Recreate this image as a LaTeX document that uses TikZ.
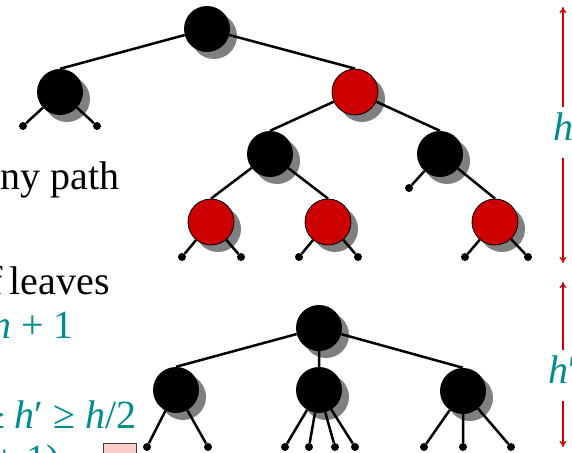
\documentclass[tikz,border=0pt]{standalone}
\usepackage{fontspec}
\setmainfont{Liberation Serif}
\usetikzlibrary{arrows.meta}

\definecolor{rbred}{RGB}{204,0,0}
\definecolor{mteal}{RGB}{0,140,140}
\definecolor{shadegray}{RGB}{128,128,128}
\definecolor{qedpink}{RGB}{255,204,204}

\pgfdeclarelayer{shadows}
\pgfdeclarelayer{edges}
\pgfsetlayers{shadows,edges,main}

\tikzset{
  blk/.style={circle,fill=black,minimum size=46pt,inner sep=0pt},
  rnd/.style={circle,fill=rbred,draw=black,line width=0.8pt,minimum size=46pt,inner sep=0pt},
  leaf/.style={circle,fill=black,minimum size=8pt,inner sep=0pt},
  edge/.style={line width=2.5pt},
  txt/.style={anchor=base east,inner sep=0pt},
  htlab/.style={anchor=base,text=mteal,text height=30pt,text depth=15pt,inner sep=3pt},
  hgt/.style={draw=rbred,line width=1.3pt,-{To[length=6pt,width=7pt]}}
}

\begin{document}
\begin{tikzpicture}[x=1pt,y=-1pt,font=\fontsize{40}{48}\selectfont]
  \useasboundingbox (0,0) rectangle (572,452);
  \clip (0,0) rectangle (572,452);

  % text on the left
  \node[txt] (t1) at (120,189) {ny path};
  \node[txt] (t2) at (110,294) {f\hspace{7.5pt}leaves};
  \node[txt,text=mteal] (t3) at (74,338) {\textit{n} + 1};
  \node[txt,text=mteal] (t4) at (137,428) {≥ \textit{h}′ ≥ \textit{h}/2};
  \node[txt,text=mteal] (t5) at (70,472) {+ 1).};
  \draw[draw=darkgray,fill=qedpink] (103,443) rectangle (136,476);

  % red-black tree
  \node[blk] (r) at (207,29) {};
  \node[blk] (a) at (60,92) {};
  \node[rnd] (b) at (355,92) {};
  \node[blk] (c) at (270,154) {};
  \node[blk] (d) at (440,154) {};
  \node[rnd] (e) at (211,222) {};
  \node[rnd] (f) at (328,222) {};
  \node[rnd] (g) at (495,222) {};
  \node[leaf] (a1) at (23,126) {};
  \node[leaf] (a2) at (97,126) {};
  \node[leaf] (d1) at (409,188) {};
  \node[leaf] (e1) at (182,257) {};
  \node[leaf] (e2) at (241,257) {};
  \node[leaf] (f1) at (299,257) {};
  \node[leaf] (f2) at (358,257) {};
  \node[leaf] (g1) at (465,257) {};
  \node[leaf] (g2) at (528,257) {};

  % 2-3-4 tree
  \node[blk] (R) at (319,328) {};
  \node[blk] (L) at (176,390) {};
  \node[blk] (M) at (319,390) {};
  \node[blk] (N) at (463,391) {};
  \node[leaf] (L1) at (147,447) {};
  \node[leaf] (L2) at (208,447) {};
  \node[leaf] (M1) at (285,447) {};
  \node[leaf] (M2) at (309,447) {};
  \node[leaf] (M3) at (335,447) {};
  \node[leaf] (M4) at (355,447) {};
  \node[leaf] (N1) at (424,447) {};
  \node[leaf] (N2) at (463,447) {};
  \node[leaf] (N3) at (511,447) {};

  \begin{pgfonlayer}{edges}
    \draw[edge] (r) -- (a.north) (r) -- (b.north)
      (b) -- (c.north) (b) -- (d.north)
      (c) -- (e.north) (c) -- (f.north) (d) -- (g.north)
      (a) -- (a1) (a) -- (a2) (d) -- (d1)
      (e) -- (e1) (e) -- (e2) (f) -- (f1) (f) -- (f2)
      (g) -- (g1) (g) -- (g2);
    \draw[edge] (R) -- (L.north) (R) -- (M.north) (R) -- (N.north)
      (L) -- (L1) (L) -- (L2)
      (M) -- (M1) (M) -- (M2) (M) -- (M3) (M) -- (M4)
      (N) -- (N1) (N) -- (N2) (N) -- (N3);
  \end{pgfonlayer}

  \begin{pgfonlayer}{shadows}
    \foreach \n in {r,a,b,c,d,e,f,g,R,L,M,N}
      \fill[shadegray] ([shift={(7,7)}]\n.center) circle (23pt);
  \end{pgfonlayer}

  % heights
  \node[htlab] (hl) at (563,140) {\textit{h}};
  \coordinate (htop) at (563,7);
  \coordinate (hbot) at (563,263);
  \draw[hgt] (hl) -- (htop);
  \draw[hgt] (hl) -- (hbot);

  \node[htlab] (hl2) at (563,383) {\textit{h}′};
  \coordinate (htop2) at (563,282);
  \coordinate (hbot2) at (563,447);
  \draw[hgt] (hl2) -- (htop2);
  \draw[hgt] (hl2) -- (hbot2);
\end{tikzpicture}
\end{document}
